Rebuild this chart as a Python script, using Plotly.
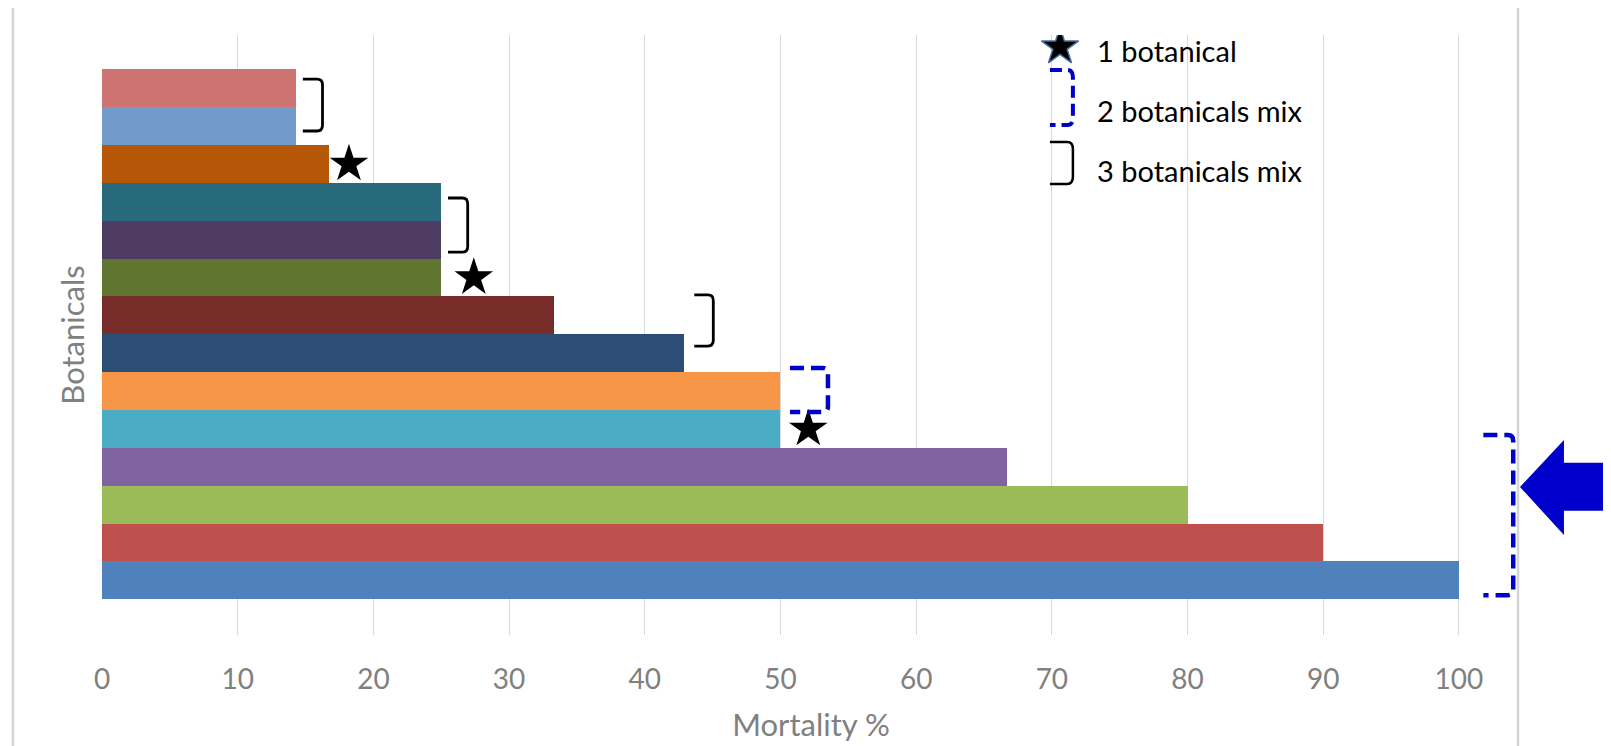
import plotly.graph_objects as go

# ---- data (bottom bar first) ----
botanicals = [f"Botanical {i}" for i in range(1, 15)]
mortality = [100, 90, 80, 66.7, 50, 50, 42.9, 33.3, 25, 25, 25, 16.7, 14.3, 14.3]
bar_colors = ["#4F81BD", "#C0504D", "#9BBB59", "#8064A2", "#4BACC6", "#F79646",
              "#2C4D75", "#772C2A", "#5F7530", "#4D3B62", "#276A7C", "#B65708",
              "#729ACA", "#CD7371"]
x_ticks = [0, 10, 20, 30, 40, 50, 60, 70, 80, 90, 100]

# groups (indices into the lists above)
single_botanical = [4, 8, 11]
mix3_groups = [(12, 13), (9, 10), (6, 7)]
mix2_groups = [(5, 5), (0, 3)]

legend_labels = ["1 botanical", "2 botanicals mix", "3 botanicals mix"]

# ---- styling helpers ----
FONT = "Lato"
GRAY = "#808080"
BLUE = "#0000CC"
pos = list(range(len(mortality)))

star_gap = [2.05, 2.4, 1.5]
mix3_x = [(0.5, 1.95), (0.5, 1.95), (0.75, 2.15)]
mix3_y = [(-0.13, 0.24), (-0.33, 0.10), (0.19, 0.54)]
mix2_x = [(0.7, 3.5), (1.8, 4.0)]
mix2_y = [(-0.55, 0.61), (-0.39, 0.84)]


def bracket_path(x0, x1, yb, yt, rx, ry):
    return (f"M {x0},{yt} L {x1 - rx},{yt} Q {x1},{yt} {x1},{yt - ry} "
            f"L {x1},{yb + ry} Q {x1},{yb} {x1 - rx},{yb} L {x0},{yb}")


fig = go.Figure()
fig.add_trace(go.Bar(
    x=mortality, y=pos, orientation="h",
    marker=dict(color=bar_colors, line=dict(width=0)),
    hovertext=botanicals, showlegend=False,
))

# stars next to single botanicals
fig.add_trace(go.Scatter(
    x=[mortality[i] + g for i, g in zip(single_botanical, star_gap)],
    y=[pos[i] for i in single_botanical],
    mode="markers", showlegend=False,
    marker=dict(symbol="star", size=29, color="black", line=dict(width=0)),
))

# legend star
fig.add_trace(go.Scatter(
    x=[70.6], y=[14.09], mode="markers", showlegend=False,
    marker=dict(symbol="star", size=28, color="black",
                line=dict(width=1.5, color="#4A6C9B")),
))

shapes = []
for (lo, hi), (dx0, dx1), (dyl, dyh) in zip(mix3_groups, mix3_x, mix3_y):
    m = max(mortality[lo:hi + 1])
    shapes.append(dict(type="path", xref="x", yref="y",
                       path=bracket_path(m + dx0, m + dx1, lo + dyl, hi + dyh, 0.4, 0.15),
                       line=dict(color="black", width=2.8)))
for (lo, hi), (dx0, dx1), (dyl, dyh) in zip(mix2_groups, mix2_x, mix2_y):
    m = max(mortality[lo:hi + 1])
    shapes.append(dict(type="path", xref="x", yref="y",
                       path=bracket_path(m + dx0, m + dx1, lo + dyl, hi + dyh, 0.4, 0.15),
                       line=dict(color=BLUE, width=4.5, dash="14px,7px")))

# chart border lines
for xp in (-0.0628, 0.9986):
    shapes.append(dict(type="line", xref="paper", yref="paper",
                       x0=xp, x1=xp, y0=1.045, y1=-0.2,
                       line=dict(color="#D4D4D4", width=2.5)))

# big arrow
shapes.append(dict(type="path", xref="paper", yref="paper",
                   path="M 1.0,0.2467 L 1.031,0.325 L 1.031,0.287 L 1.075,0.287 "
                        "L 1.075,0.207 L 1.031,0.207 L 1.031,0.1667 Z",
                   fillcolor=BLUE, line=dict(width=0)))

# legend icons
shapes.append(dict(type="path", xref="paper", yref="paper",
                   path=bracket_path(0.6685, 0.6847, 0.85, 0.9417, 0.004, 0.012),
                   line=dict(color=BLUE, width=4, dash="12px,6px")))
shapes.append(dict(type="path", xref="paper", yref="paper",
                   path=bracket_path(0.6685, 0.6847, 0.7517, 0.8217, 0.004, 0.012),
                   line=dict(color="black", width=2.5)))

annotations = []
for lbl, yp in zip(legend_labels, [0.975, 0.875, 0.775]):
    annotations.append(dict(text=lbl, xref="paper", yref="paper", x=0.700, y=yp,
                            xanchor="left", yanchor="middle", showarrow=False,
                            font=dict(family=FONT, size=29, color="black")))

# the page body adds an 8px offset, so the figure is 8px smaller and margins shifted
fig.update_layout(
    width=1603, height=738,
    margin=dict(l=94, r=91, t=27, b=111, autoexpand=False),
    paper_bgcolor="white", plot_bgcolor="white",
    bargap=0,
    shapes=shapes, annotations=annotations,
    xaxis=dict(range=[0, 104.5], tickvals=x_ticks, ticktext=[str(v) for v in x_ticks],
               showgrid=True, gridcolor="#D9D9D9", gridwidth=1.3,
               zeroline=False, showline=False, ticks="", automargin=False,
               ticklabelstandoff=25,
               tickfont=dict(family=FONT, size=28, color=GRAY),
               title=dict(text="Mortality %", standoff=20,
                          font=dict(family=FONT, size=31, color=GRAY))),
    yaxis=dict(range=[-1.443, 14.406], showticklabels=False, showgrid=False,
               zeroline=False, showline=False, ticks="", automargin=False,
               title=dict(text="Botanicals", standoff=7,
                          font=dict(family=FONT, size=31, color=GRAY))),
)

fig.write_html("out.html")
